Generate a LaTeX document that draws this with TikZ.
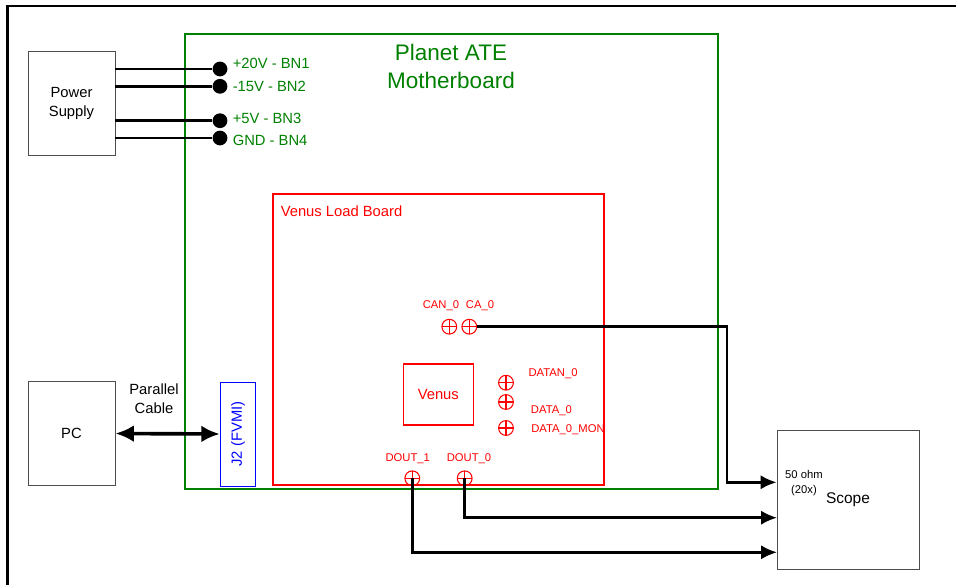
\documentclass[tikz,border=0pt]{standalone}
\usepackage{fontspec}
\setmainfont{Liberation Sans}
\usetikzlibrary{arrows.meta,positioning}

\definecolor{mbgreen}{RGB}{0,128,0}

\begin{document}
\begin{tikzpicture}[
			x=0.025cm, y=-0.025cm,
			>=Latex,
			box/.style={
				draw=black!70,
				line width=0.6pt,
				align=center,
				inner sep=0pt,
				font=\fontsize{10.5}{13.5}\selectfont
			},
			board/.style={
				draw,
				line width=1.4pt,
				inner sep=0pt
			},
			lbl/.style={
				inner sep=0pt,
				anchor=west,
				font=\fontsize{10.5}{13.5}\selectfont
			},
			tplbl/.style={
				inner sep=0pt,
				text=red,
				font=\fontsize{8}{10}\selectfont
			},
			testpt/.style={
				circle,
				draw=red,
				line width=0.75pt,
				minimum size=0.37cm,
				inner sep=0pt,
				path picture={\draw[red,line width=0.75pt]
					(path picture bounding box.north) -- (path picture bounding box.south)
					(path picture bounding box.west) -- (path picture bounding box.east);}
			},
			pin/.style={
				circle,
				fill=black,
				minimum size=0.37cm,
				inner sep=0pt
			},
			wire/.style={line width=2pt},
			probe/.style={line width=1.9pt,->,>={Latex[length=0.4cm,width=0.36cm]}}
			]
			
			\useasboundingbox (0,0) rectangle (956,585);
			
			% frame
			\draw[line width=2pt] (7.5,585) -- (7.5,6) -- (956,6);
			
			% boards
			\node[board,draw=mbgreen,minimum width=13.325cm,minimum height=11.375cm] (mb) at (451.5,261.5) {};
			\node[text=mbgreen,align=center,font=\fontsize{16}{20.5}\selectfont] (mbtitle) at (451,66.5)
			{Planet ATE\\Motherboard};
			
			\node[board,draw=red,minimum width=8.275cm,minimum height=7.275cm] (lb) at (438.5,339.5) {};
			\node[lbl,text=red] (lbtitle) at (280.5,211) {Venus Load Board};
			
			\node[box,draw=red,line width=0.8pt,text=red,minimum width=1.75cm,minimum height=1.525cm] (venus) at (438.3,394.5) {Venus};
			
			% power supply
			\node[box,minimum width=2.175cm,minimum height=2.6cm] (ps) at (71.5,103.5) {Power\\Supply};
			
			\node[pin] (bn1) at (220,69) {};
			\node[pin] (bn2) at (220,86.3) {};
			\node[pin] (bn3) at (220,120.7) {};
			\node[pin] (bn4) at (220,138) {};
			
			\draw[wire] (ps.east |- bn1) -- (bn1);
			\draw[wire] (ps.east |- bn2) -- (bn2);
			\draw[wire] (ps.east |- bn3) -- (bn3);
			\draw[wire] (ps.east |- bn4) -- (bn4);
			
			\node[lbl,text=mbgreen] (bn1lbl) at (232.5,63.5) {+20V - BN1};
			\node[lbl,text=mbgreen] (bn2lbl) at (232.5,86.5) {-15V - BN2};
			\node[lbl,text=mbgreen] (bn3lbl) at (232.5,118) {+5V - BN3};
			\node[lbl,text=mbgreen] (bn4lbl) at (232.5,140) {GND - BN4};
			
			% pc and connector
			\node[box,minimum width=2.175cm,minimum height=2.6cm] (pc) at (71.5,433.5) {PC};
			\node[box,draw=blue,text=blue,rotate=90,minimum width=2.6cm,minimum height=0.89cm] (j2) at (238,434) {J2 (FVMI)};
			
			\draw[<->,line width=2.6pt,>={Latex[length=0.46cm,width=0.42cm]}] (pc.east) -- (j2.north);
			\node[align=center,font=\fontsize{10.5}{13.3}\selectfont] (cable) at (154,398.5) {Parallel\\Cable};
			
			% test points
			\node[testpt] (can0) at (449.3,326.7) {};
			\node[testpt] (ca0) at (469.3,326.7) {};
			\node[tplbl] at (441,306) {CAN\_0};
			\node[tplbl] at (480,306) {CA\_0};
			
			\node[testpt] (datan0) at (506,382.7) {};
			\node[testpt] (data0) at (506,402) {};
			\node[testpt] (datamon) at (506,428) {};
			\node[tplbl,anchor=west] at (528.3,374) {DATAN\_0};
			\node[tplbl,anchor=west] at (530.7,410.7) {DATA\_0};
			\node[tplbl,anchor=west] at (531,429.3) {DATA\_0\_MON};
			
			\node[testpt] (dout1) at (412.3,478.3) {};
			\node[testpt] (dout0) at (464.7,478.3) {};
			\node[tplbl] at (407.7,459) {DOUT\_1};
			\node[tplbl] at (469,459) {DOUT\_0};
			
			% scope
			\node[box,font=\fontsize{11}{13}\selectfont,minimum width=3.55cm,minimum height=3.46cm] (scope) at (848,500) {Scope};
			\node[align=center,inner sep=0pt,font=\fontsize{8}{10.7}\selectfont] (term) at (804,483.5) {50 ohm\\(20x)};
			
			\coordinate (bend) at (727,482.3);
			\coordinate (in2) at (777,517.7);
			\coordinate (in3) at (777,552.3);
			
			\draw[probe] (ca0.east) -| (bend) -- (scope.west |- bend);
			\draw[probe] (dout0.center) |- (in2);
			\draw[probe] (dout1.center) |- (in3);
			
		\end{tikzpicture}
\end{document}
